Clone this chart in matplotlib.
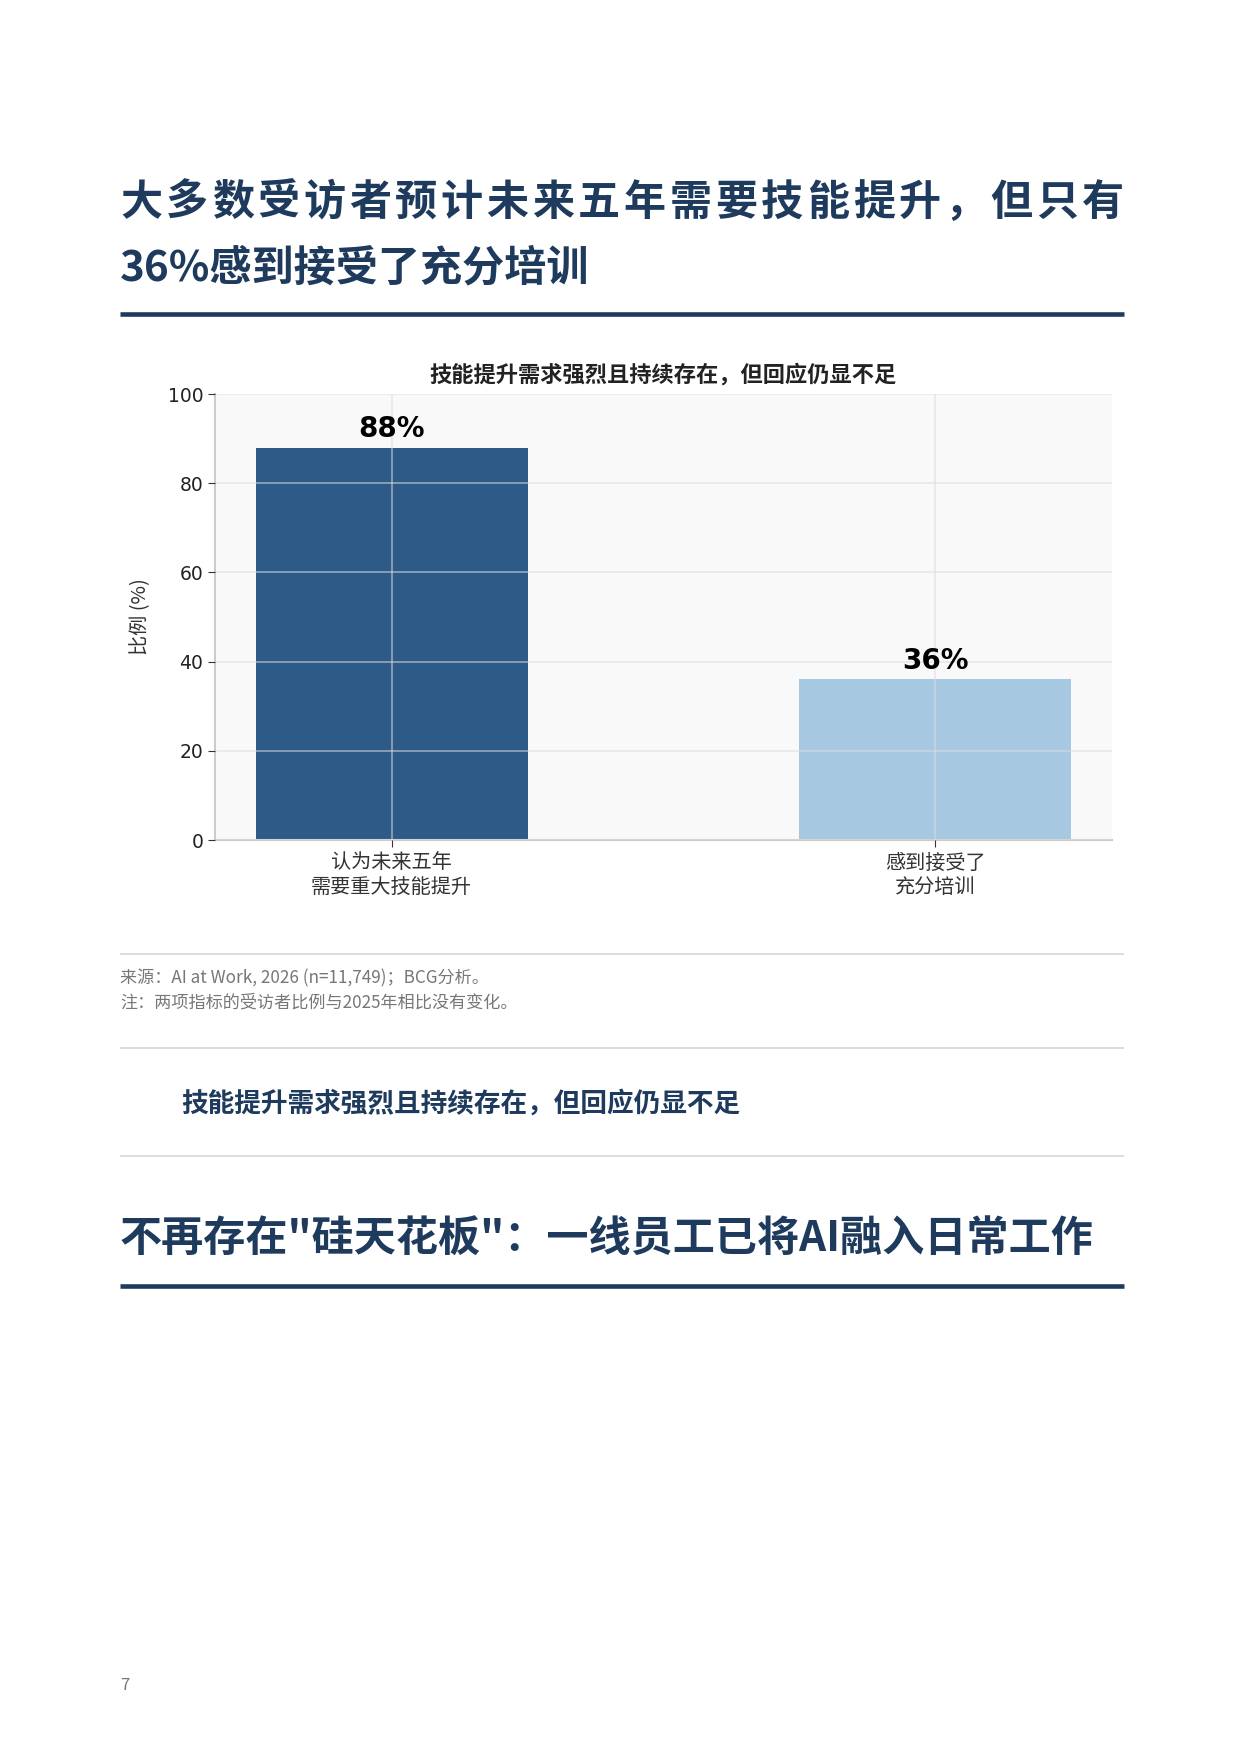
import matplotlib
matplotlib.use("Agg")
import matplotlib.pyplot as plt
from matplotlib.lines import Line2D

plt.rcParams['font.family'] = ['Noto Sans CJK SC', 'DejaVu Sans']

# data
categories = ['认为未来五年\n需要重大技能提升', '感到接受了\n充分培训']
values = [88, 36]
bar_colors = ['#2e5a87', '#a6c8e0']
yticks = [0, 20, 40, 60, 80, 100]

title_1 = '大多数受访者预计未来五年需要技能提升，但只有'
title_2 = '36%感到接受了充分培训'
chart_title = '技能提升需求强烈且持续存在，但回应仍显不足'
source = '来源：AI at Work, 2026 (n=11,749)；BCG分析。'
note = '注：两项指标的受访者比例与2025年相比没有变化。'
subtitle = '技能提升需求强烈且持续存在，但回应仍显不足'
section = '不再存在"硅天花板"：一线员工已将AI融入日常工作'
page_no = '7'

navy = '#1e3a5c'
W, H = 1239, 1753
L, R = 120, 1124
fig = plt.figure(figsize=(W / 100, H / 100), dpi=100)
fig.patch.set_facecolor('white')

def fy(py):
    return 1 - py / H

def fx(px):
    return px / W

def hline(py, lw, color):
    fig.add_artist(Line2D([fx(L), fx(R)], [fy(py), fy(py)], lw=lw, color=color,
                          transform=fig.transFigure, solid_capstyle='butt'))

# page header, first line justified across the column
hsize = 30.3
em = hsize * 100 / 72
pitch = (R - L - em) / (len(title_1) - 1)
for i, ch in enumerate(title_1):
    fig.text(fx(L + i * pitch), fy(203), ch, fontsize=hsize, fontweight='bold',
             color=navy, va='center')
fig.text(fx(L), fy(268), title_2, fontsize=hsize, fontweight='bold', color=navy, va='center')
hline(314, 3.3, navy)

# chart
ax = fig.add_axes([fx(215), fy(840), fx(1112) - fx(215), fy(394) - fy(840)])
ax.set_facecolor('#f9f9f9')
x = list(range(len(values)))
bars = ax.bar(x, values, width=0.5, color=bar_colors)
for b, v in zip(bars, values):
    ax.text(b.get_x() + b.get_width() / 2, v + 1, f'{v}%', ha='center', va='bottom',
            fontsize=20, fontweight='bold', family='DejaVu Sans', color='black')
ax.set_ylim(0, 100)
ax.set_yticks(yticks)
ax.set_xticks(x)
ax.set_xticklabels(categories, fontsize=14.5, color='#333333', linespacing=1.2)
ax.tick_params(axis='y', labelsize=13.5, labelcolor='#222222', length=5, color='#333333')
ax.tick_params(axis='x', length=5, color='#333333', pad=4)
for lab in ax.get_yticklabels():
    lab.set_family('DejaVu Sans')
ax.set_ylabel('比例 (%)', fontsize=14.5, color='#333333', labelpad=12)
ax.grid(True, color='#dddddd', alpha=0.6, lw=1.2)
ax.set_axisbelow(False)
for s in ['top', 'right']:
    ax.spines[s].set_visible(False)
for s in ['left', 'bottom']:
    ax.spines[s].set_color('#cccccc')
    ax.spines[s].set_linewidth(1.5)
ax.set_title(chart_title, fontsize=16, fontweight='bold', color='#222222', pad=9)

# notes
hline(954, 1.4, '#dddddd')
fig.text(fx(L), fy(978), source, fontsize=12.3, color='#777777', va='center')
fig.text(fx(L), fy(1003), note, fontsize=12.3, color='#777777', va='center')
hline(1048, 1.4, '#dddddd')
fig.text(fx(181), fy(1104), subtitle, fontsize=19.2, fontweight='bold', color=navy, va='center')
hline(1156, 1.4, '#dddddd')

# next section
fig.text(fx(L), fy(1240), section, fontsize=hsize, fontweight='bold', color=navy, va='center')
hline(1286, 3.3, navy)

fig.text(fx(L), fy(1686), page_no, fontsize=12, color='#777777', va='center')

fig.savefig('out.png', dpi=100, facecolor='white')
